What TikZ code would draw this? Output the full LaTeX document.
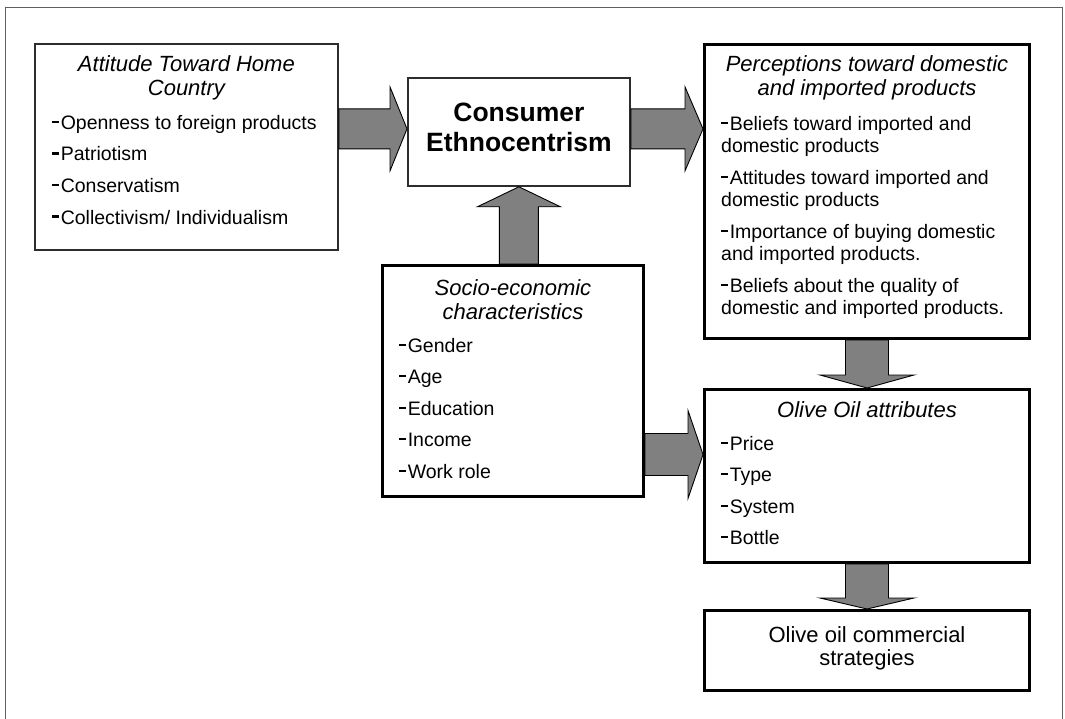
\documentclass[tikz,border=0pt]{standalone}
\usepackage{fontspec}
\setmainfont{Liberation Sans}
\usetikzlibrary{calc}
\usetikzlibrary{positioning}

\definecolor{arrowgray}{RGB}{128,128,128}
\definecolor{boxgray}{RGB}{45,45,45}
\definecolor{framegray}{RGB}{95,95,95}

\newcommand{\bdash}{\rule[6.4pt]{7.2pt}{2.3pt}\hspace{1.4pt}}
% block arrow: start, tip, half shaft, half head, head length
\newcommand{\fatarrow}[5]{%
  \coordinate (neck) at ($(#2)!#5!(#1)$);
  \filldraw[arrowstyle] ($(#1)!#3!90:(#2)$) -- ($(neck)!#3!90:(#2)$) -- ($(neck)!#4!90:(#2)$) -- (#2)
    -- ($(neck)!#4!-90:(#2)$) -- ($(neck)!#3!-90:(#2)$) -- ($(#1)!#3!-90:(#2)$) -- cycle;}

\begin{document}
\begin{tikzpicture}[x=1pt, y=-1pt,
  thinbox/.style={draw=boxgray, line width=1.8pt, inner sep=0pt, anchor=north west},
  thickbox/.style={draw=black, line width=3pt, inner sep=0pt, anchor=north west},
  heading/.style={font=\fontsize{22}{24.5}\selectfont\itshape, align=center, anchor=north, inner sep=0pt},
  listing/.style={font=\fontsize{19.5}{22}\selectfont, align=left, anchor=north west, inner sep=0pt},
  arrowstyle/.style={fill=arrowgray, draw=black, line width=0.9pt, line join=miter}]
\useasboundingbox (0,0) rectangle (1065,719);
\draw[framegray, line width=1pt] (5,719) -- (5,8) -- (1062,8) -- (1062,719);

% boxes
\node[thinbox, minimum width=303pt, minimum height=206pt] (attitude) at (34,43) {};
\node[thinbox, minimum width=222pt, minimum height=108pt] (ethno) at (407,77) {};
\node[thickbox, minimum width=325pt, minimum height=294pt] (percep) at (703,43) {};
\node[thickbox, minimum width=261pt, minimum height=231pt] (socio) at (381,264) {};
\node[thickbox, minimum width=325pt, minimum height=173pt] (attrib) at (703,388) {};
\node[thickbox, minimum width=325pt, minimum height=80pt] (strat) at (703,609) {};

% texts
\node[heading] (attitude-title) at ([yshift=-12pt]attitude.north) {Attitude Toward Home\\Country};
\node[listing] (attitude-list) at ([xshift=18pt, yshift=-72pt]attitude.north west)
  {\bdash Openness to foreign products\\[9.6pt]\bdash Patriotism\\[9.6pt]\bdash Conservatism\\[9.6pt]\bdash Collectivism/ Individualism};

\node[font=\fontsize{26.5}{30}\selectfont\bfseries, align=center, anchor=north, inner sep=0pt] (ethno-text)
  at ([yshift=-26pt]ethno.north) {Consumer\\Ethnocentrism};

\node[heading] (percep-title) at ([yshift=-12pt]percep.north) {Perceptions toward domestic\\and imported products};
\node[listing] (percep-list) at ([xshift=18pt, yshift=-73pt]percep.north west)
  {\bdash Beliefs toward imported and\\domestic products\\[10pt]
   \bdash Attitudes toward imported and\\domestic products\\[10pt]
   \bdash Importance of buying domestic\\and imported products.\\[10pt]
   \bdash Beliefs about the quality of\\domestic and imported products.};

\node[heading] (socio-title) at ([yshift=-15pt]socio.north) {Socio-economic\\characteristics};
\node[listing] (socio-list) at ([xshift=18pt, yshift=-74pt]socio.north west)
  {\bdash Gender\\[9.5pt]\bdash Age\\[9.5pt]\bdash Education\\[9.5pt]\bdash Income\\[9.5pt]\bdash Work role};

\node[heading] (attrib-title) at ([yshift=-13pt]attrib.north) {Olive Oil attributes};
\node[listing] (attrib-list) at ([xshift=18pt, yshift=-48pt]attrib.north west)
  {\bdash Price\\[9.5pt]\bdash Type\\[9.5pt]\bdash System\\[9.5pt]\bdash Bottle};

\node[font=\fontsize{22}{23.5}\selectfont, align=center, anchor=north, inner sep=0pt] (strat-text)
  at ([yshift=-17pt]strat.north) {Olive oil commercial\\strategies};

% arrows
\coordinate (t1) at ([yshift=3pt]ethno.west);
\coordinate (a1) at (attitude.east |- t1);
\coordinate (s2) at ([yshift=3pt]ethno.east);
\coordinate (a2) at (percep.west |- s2);
\coordinate (a3) at (socio.north -| ethno.south);
\coordinate (a4) at ([yshift=21.5pt]attrib.west);
\coordinate (a5) at (socio.east |- a4);
\fatarrow{a1}{t1}{20pt}{42pt}{17pt}
\fatarrow{s2}{a2}{20pt}{42pt}{18pt}
\fatarrow{a3}{ethno.south}{19.5pt}{41.5pt}{20pt}
\fatarrow{a5}{a4}{21pt}{44pt}{15pt}
\fatarrow{percep.south}{attrib.north}{21.5pt}{47pt}{13pt}
\fatarrow{attrib.south}{strat.north}{21.5pt}{47pt}{11pt}

\end{tikzpicture}
\end{document}
